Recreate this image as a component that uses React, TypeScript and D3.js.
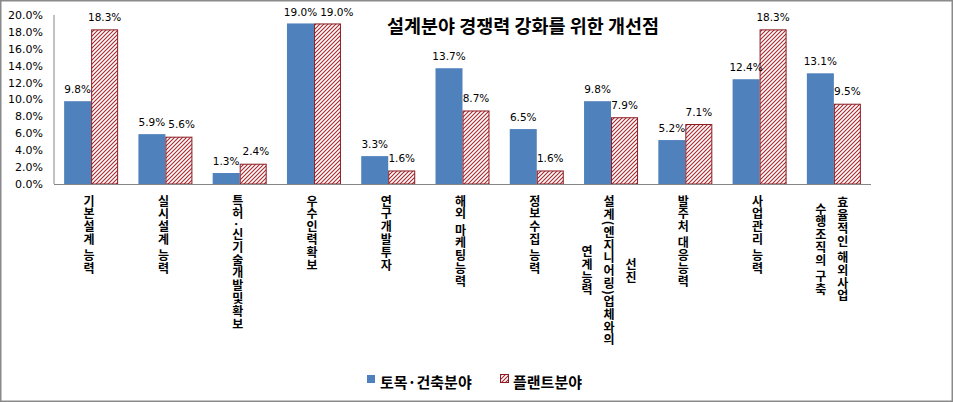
import React from "react";
import * as d3 from "d3";

const categoryLines: string[][] = [
  ["기본설계 능력"],
  ["실시설계 능력"],
  ["특허·신기술개발및확보"],
  ["우수인력확보"],
  ["연구개발투자"],
  ["해외 마케팅능력"],
  ["정보수집 능력"],
  ["선진", "설계(엔지니어링)업체와의", "연계능력"],
  ["발주처 대응능력"],
  ["사업관리 능력"],
  ["효율적인 해외사업", "수행조직의 구축"],
];
const categories = categoryLines.map((l) => l.join(" "));
const seriesNames = ["토목·건축분야", "플랜트분야"];
const civilValues = [9.8, 5.9, 1.3, 19.0, 3.3, 13.7, 6.5, 9.8, 5.2, 12.4, 13.1];
const plantValues = [18.3, 5.6, 2.4, 19.0, 1.6, 8.7, 1.6, 7.9, 7.1, 18.3, 9.5];
const yTicks = [0, 2, 4, 6, 8, 10, 12, 14, 16, 18, 20];
const title = "설계분야 경쟁력 강화를 위한 개선점";

const W = 953;
const H = 402;
const plotLeft = 54;
const plotRight = 871;
const plotTop = 15;
const plotBottom = 184;

const BLUE = "#4F81BD";
const HATCH = "#A8262C";
const RED_BORDER = "#8C1C22";
const KR = "'Noto Sans CJK KR', sans-serif";
const NUM = "'DejaVu Sans', sans-serif";
const LAB_FS = 12;
const LAB_LS = 0.8;

function colHeight(s: string) {
  let h = 0;
  for (const c of Array.from(s)) {
    if (c === " ") h += LAB_FS * 0.5 + LAB_LS;
    else if (c === "(" || c === ")") h += LAB_FS * 0.4 + LAB_LS;
    else h += LAB_FS + LAB_LS;
  }
  return h;
}

function labelWidth(s: string) {
  // DejaVu Sans approx advances at 10.5px
  let w = 0;
  for (const c of s) w += c === "." ? 3.3 : c === "%" ? 10 : 6.7;
  return w;
}

export default function App() {
  const x = d3
    .scaleBand<string>()
    .domain(categories)
    .range([plotLeft, plotRight])
    .paddingInner(0.273)
    .paddingOuter(0.1365);
  const xs = d3.scaleBand<string>().domain(seriesNames).range([0, x.bandwidth()]);
  const y = d3.scaleLinear().domain([0, 20]).range([plotBottom, plotTop]);
  const fmt = d3.format(".1f");
  const series = [civilValues, plantValues];

  const labelTop = 195;
  const colGap = 22;

  return (
    <svg
      width={W}
      height={H}
      style={{ position: "fixed", left: 0, top: 0, background: "#fff" }}
    >
      <defs>
        <pattern id="hatch" patternUnits="userSpaceOnUse" width={4} height={4}>
          <rect width={4} height={4} fill="#fff" />
          <path
            d="M-1,1 l2,-2 M0,4 l4,-4 M3,5 l2,-2"
            stroke={HATCH}
            strokeWidth={1.1}
          />
        </pattern>
      </defs>
      <rect x={0.75} y={0.75} width={W - 1.5} height={H - 1.5} fill="#fff" stroke="#8a8a8a" strokeWidth={1.5} />

      {/* title */}
      <text
        x={523}
        y={33}
        textAnchor="middle"
        fontFamily={KR}
        fontWeight={700}
        fontSize={18.5}
        fill="#000"
      >
        {title}
      </text>

      {/* y axis labels */}
      {yTicks.map((t) => (
        <text
          key={t}
          x={43}
          y={y(t)}
          dy="0.36em"
          textAnchor="end"
          fontFamily={NUM}
          fontSize={11}
          fill="#000"
        >
          {fmt(t)}%
        </text>
      ))}

      {/* bars */}
      {categories.map((c, i) => {
        const bw = xs.bandwidth();
        const bxs = series.map((_, si) => (x(c) ?? 0) + (xs(seriesNames[si]) ?? 0));
        const tops = series.map((vals) => y(vals[i]));
        const texts = series.map((vals) => fmt(vals[i]) + "%");
        const lys = tops.map((t) => Math.max(t - 8.5, 16));
        const lcx = bxs.map((b) => b + bw / 2);
        // resolve overlaps between the two labels of a category
        const w0 = labelWidth(texts[0]);
        const w1 = labelWidth(texts[1]);
        if (Math.abs(lys[0] - lys[1]) < 11) {
          const r0 = lcx[0] + w0 / 2;
          const l1 = lcx[1] - w1 / 2;
          if (l1 < r0 + 3) lcx[1] = r0 + 3 + w1 / 2;
        }
        return (
          <g key={c}>
            <rect x={bxs[0]} y={tops[0]} width={bw} height={plotBottom - tops[0]} fill={BLUE} />
            <rect
              x={bxs[1] + 0.5}
              y={tops[1] + 0.5}
              width={bw - 1}
              height={plotBottom - tops[1] - 0.5}
              fill="url(#hatch)"
              stroke={RED_BORDER}
              strokeWidth={1}
            />
            {texts.map((t, si) => (
              <text
                key={si}
                x={lcx[si]}
                y={lys[si]}
                textAnchor="middle"
                fontFamily={NUM}
                fontSize={10.5}
                fill="#000"
              >
                {t}
              </text>
            ))}
          </g>
        );
      })}

      {/* axes */}
      <line x1={plotLeft} x2={plotLeft} y1={plotTop} y2={plotBottom} stroke="#868686" strokeWidth={1} />
      <line x1={plotLeft} x2={plotRight} y1={plotBottom + 0.5} y2={plotBottom + 0.5} stroke="#868686" strokeWidth={1} />

      {/* category labels: stacked vertical text, columns right-to-left */}
      {categoryLines.map((lines, i) => {
        const cx = (x(categories[i]) ?? 0) + x.bandwidth() / 2 - 2;
        const n = lines.length;
        const heights = lines.map(colHeight);
        const maxH = Math.max(...heights);
        const midY = labelTop + maxH / 2;
        return (
          <g key={"lab" + i}>
            {lines.map((line, li) => {
              const colX = cx + ((n - 1) / 2 - li) * colGap;
              return (
                <text
                  key={li}
                  x={colX}
                  y={n === 1 ? labelTop : midY}
                  textAnchor={n === 1 ? "start" : "middle"}
                  style={{ writingMode: "vertical-rl", textOrientation: "mixed" } as any}
                  letterSpacing={LAB_LS}
                  fontFamily={KR}
                  fontWeight={700}
                  fontSize={LAB_FS}
                  fill="#000"
                >
                  {line}
                </text>
              );
            })}
          </g>
        );
      })}

      {/* legend */}
      <rect x={367} y={375} width={8} height={8} fill={BLUE} />
      <text x={380} y={388} fontFamily={KR} fontWeight={700} fontSize={15} fill="#000">
        {seriesNames[0]}
      </text>
      <rect x={500.5} y={374.5} width={8} height={8} fill="url(#hatch)" stroke={RED_BORDER} strokeWidth={1} />
      <text x={513} y={388} fontFamily={KR} fontWeight={700} fontSize={15} fill="#000">
        {seriesNames[1]}
      </text>
    </svg>
  );
}
